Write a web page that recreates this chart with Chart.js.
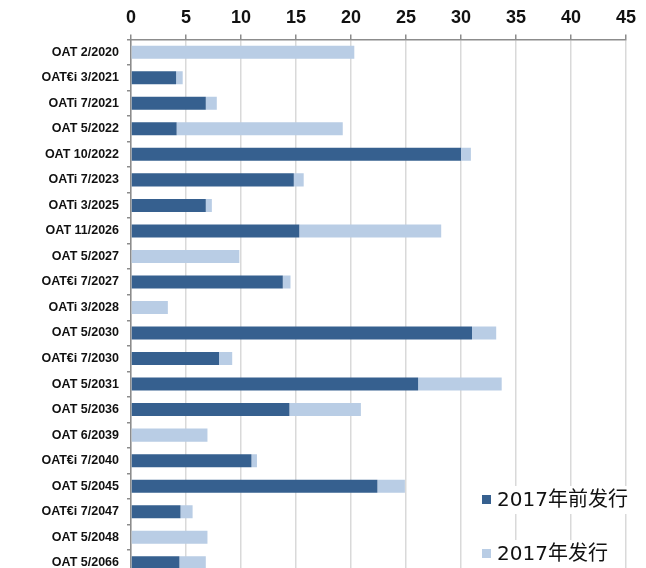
<!DOCTYPE html>
<html>
<head>
<meta charset="utf-8">
<script src="https://cdn.jsdelivr.net/npm/chart.js@4.4.1/dist/chart.umd.min.js"></script>
<style>
    html, body { margin: 0; padding: 0; background: #fff; overflow: hidden; }
    #wrap { width: 646px; height: 568px; overflow: hidden; }
</style>
</head>
<body>
<div id="wrap"><canvas id="bondChart" width="646" height="591"></canvas></div>
<script>
const BONDS = [
    "OAT 2/2020", "OAT€i 3/2021", "OATi 7/2021", "OAT 5/2022", "OAT 10/2022",
    "OATi 7/2023", "OATi 3/2025", "OAT 11/2026", "OAT 5/2027", "OAT€i 7/2027",
    "OATi 3/2028", "OAT 5/2030", "OAT€i 7/2030", "OAT 5/2031", "OAT 5/2036",
    "OAT 6/2039", "OAT€i 7/2040", "OAT 5/2045", "OAT€i 7/2047", "OAT 5/2048",
    "OAT 5/2066"
];

// issued before 2017
const BEFORE_2017 = [
    0, 4.1, 6.8, 4.15, 30.0,
    14.8, 6.8, 15.3, 0, 13.8,
    0, 31.0, 8.0, 26.1, 14.4,
    0, 10.95, 22.4, 4.5, 0,
    4.4
];

// issued in 2017
const IN_2017 = [
    20.3, 0.6, 1.0, 15.1, 0.9,
    0.9, 0.55, 12.9, 9.85, 0.7,
    3.35, 2.2, 1.2, 7.6, 6.5,
    6.95, 0.5, 2.5, 1.1, 6.95,
    2.4
];

const X_TICKS = [0, 5, 10, 15, 20, 25, 30, 35, 40, 45];

const COLORS = {
    dark:  "#36608f",
    light: "#b9cde5",
    grid:  "#d9d9d9",
    axis:  "#8c8c8c",
    text:  "#111111"
};

// legend drawn inside the plot, bottom right, with white backing behind text
const insideLegend = {
    id: "insideLegend",
    afterDraw(chart) {
        const ctx = chart.ctx;
        const items = [
            { label: chart.data.datasets[0].label, color: COLORS.dark,  y: 500 },
            { label: chart.data.datasets[1].label, color: COLORS.light, y: 554 }
        ];
        ctx.save();
        ctx.font = "20px 'DejaVu Sans', 'Noto Sans CJK SC', sans-serif";
        ctx.textBaseline = "middle";
        items.forEach(it => {
            const w = ctx.measureText(it.label).width;
            ctx.fillStyle = "#ffffff";
            ctx.fillRect(480, it.y - 14, w + 22, 28);
            ctx.fillStyle = it.color;
            ctx.fillRect(482, it.y - 5, 9, 9);
            ctx.fillStyle = COLORS.text;
            ctx.fillText(it.label, 497, it.y + 1);
        });
        ctx.restore();
    }
};

const ctx = document.getElementById("bondChart").getContext("2d");

new Chart(ctx, {
    type: "bar",
    data: {
        labels: BONDS,
        datasets: [
            {
                label: "2017年前发行",
                data: BEFORE_2017,
                backgroundColor: COLORS.dark,
                barPercentage: 0.51,
                categoryPercentage: 1.0
            },
            {
                label: "2017年发行",
                data: IN_2017,
                backgroundColor: COLORS.light,
                barPercentage: 0.51,
                categoryPercentage: 1.0
            }
        ]
    },
    options: {
        indexAxis: "y",
        responsive: false,
        animation: false,
        devicePixelRatio: 1,
        layout: { padding: { top: 0, right: 20, bottom: 0, left: 0 } },
        plugins: {
            legend: { display: false },
            tooltip: { enabled: false }
        },
        scales: {
            x: {
                position: "top",
                stacked: true,
                min: 0,
                max: 45,
                afterFit: s => { s.height = 39.5; },
                afterBuildTicks: s => { s.ticks = X_TICKS.map(v => ({ value: v })); },
                ticks: {
                    color: COLORS.text,
                    padding: 6,
                    font: { family: "Arial, 'Liberation Sans', sans-serif", size: 18, weight: "bold" }
                },
                grid: {
                    color: COLORS.grid,
                    lineWidth: 1.5,
                    tickColor: COLORS.axis,
                    tickLength: 5
                },
                border: { color: COLORS.axis, width: 1.5 }
            },
            y: {
                stacked: true,
                afterFit: s => { s.width = 131; },
                ticks: {
                    color: COLORS.text,
                    padding: 8,
                    autoSkip: false,
                    font: { family: "Arial, 'Liberation Sans', sans-serif", size: 12.5, weight: "bold" }
                },
                grid: {
                    drawOnChartArea: false,
                    color: COLORS.axis,
                    lineWidth: 1.5,
                    tickLength: 4
                },
                border: { color: COLORS.axis, width: 1.5 }
            }
        }
    },
    plugins: [insideLegend]
});
</script>
</body>
</html>
